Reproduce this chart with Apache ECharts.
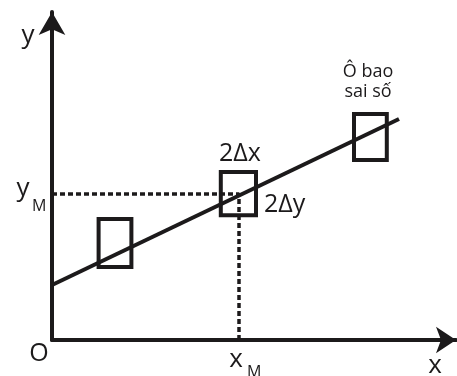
<!DOCTYPE html>
<html>
<head>
<meta charset="utf-8">
<script src="https://cdn.jsdelivr.net/npm/echarts@6/dist/echarts.min.js"></script>
<style>html,body{margin:0;padding:0;background:#fff}#c{width:457px;height:376px}</style>
</head>
<body>
<div id="c"></div>
<script>
// Best-fit line endpoints (data units)
const fitLine = [[0, 1.375], [8.675, 5.525]];
// Error boxes: centre x, centre y, half-width (Δx), half-height (Δy)
const boxCentersX = [1.575, 4.66, 7.96];
const boxCentersY = [2.425, 3.66, 5.075];
const boxDx = [0.41, 0.44, 0.41];
const boxDy = [0.6, 0.54, 0.575];
// Mean point
const xM = 4.675;
const yM = 3.65;
const xMax = 10.1;
const yMax = 8.2;

const ink = '#1c1a1b';
const font = '"Open Sans", "DejaVu Sans", sans-serif';

const boxes = boxCentersX.map((x, i) => [x, boxCentersY[i], boxDx[i], boxDy[i]]);

const chart = echarts.init(document.getElementById('c'), null, {renderer: 'canvas'});
chart.setOption({
  animation: false,
  backgroundColor: '#fff',
  grid: {left: 52, bottom: 36, width: 404, top: 12},
  xAxis: {
    type: 'value', min: 0, max: xMax,
    axisLine: {show: true, onZero: false, symbol: ['none', 'arrow'], symbolSize: [20, 20],
      lineStyle: {color: ink, width: 4}},
    axisTick: {show: false}, axisLabel: {show: false}, splitLine: {show: false}
  },
  yAxis: {
    type: 'value', min: 0, max: yMax,
    axisLine: {show: true, onZero: false, symbol: ['none', 'arrow'], symbolSize: [20, 23],
      lineStyle: {color: ink, width: 4}},
    axisTick: {show: false}, axisLabel: {show: false}, splitLine: {show: false}
  },
  series: [
    {
      type: 'line', data: [[0, yM], [xM, yM], [xM, 0]], symbol: 'none', silent: true,
      lineStyle: {color: ink, width: 3.5, type: [5, 3]}, z: 1
    },
    {
      type: 'line', data: fitLine, symbol: 'none', silent: true,
      lineStyle: {color: ink, width: 4}, z: 2
    },
    {
      type: 'custom', data: boxes, silent: true, z: 3,
      renderItem: function (params, api) {
        const x = api.value(0), y = api.value(1), dx = api.value(2), dy = api.value(3);
        const p1 = api.coord([x - dx, y + dy]);
        const p2 = api.coord([x + dx, y - dy]);
        return {
          type: 'rect',
          shape: {x: p1[0], y: p1[1], width: p2[0] - p1[0], height: p2[1] - p1[1]},
          style: {fill: 'none', stroke: ink, lineWidth: 4}
        };
      }
    }
  ],
  graphic: [
    {type: 'text', x: 28, y: 36, style: {text: 'y', font: '26px ' + font, fill: ink, align: 'center', verticalAlign: 'middle'}},
    {type: 'text', x: 23, y: 189, style: {text: 'y', font: '26px ' + font, fill: ink, align: 'center', verticalAlign: 'middle'}},
    {type: 'text', x: 32, y: 206, style: {text: 'M', font: '16px ' + font, fill: ink, align: 'left', verticalAlign: 'middle'}},
    {type: 'text', x: 39, y: 354, style: {text: 'O', font: '25px ' + font, fill: ink, align: 'center', verticalAlign: 'middle'}},
    {type: 'text', x: 435, y: 366, style: {text: 'x', font: '26px ' + font, fill: ink, align: 'center', verticalAlign: 'middle'}},
    {type: 'text', x: 236, y: 360, style: {text: 'x', font: '26px ' + font, fill: ink, align: 'center', verticalAlign: 'middle'}},
    {type: 'text', x: 247, y: 372, style: {text: 'M', font: '16px ' + font, fill: ink, align: 'left', verticalAlign: 'middle'}},
    {type: 'text', x: 240, y: 154, style: {text: '2Δx', font: '25px ' + font, fill: ink, align: 'center', verticalAlign: 'middle'}},
    {type: 'text', x: 264, y: 205, style: {text: '2Δy', font: '25px ' + font, fill: ink, align: 'left', verticalAlign: 'middle'}},
    {type: 'text', x: 368, y: 72, style: {text: 'Ô bao', font: '18px ' + font, fill: ink, align: 'center', verticalAlign: 'middle'}},
    {type: 'text', x: 368, y: 92, style: {text: 'sai số', font: '18px ' + font, fill: ink, align: 'center', verticalAlign: 'middle'}}
  ]
});
</script>
</body>
</html>
